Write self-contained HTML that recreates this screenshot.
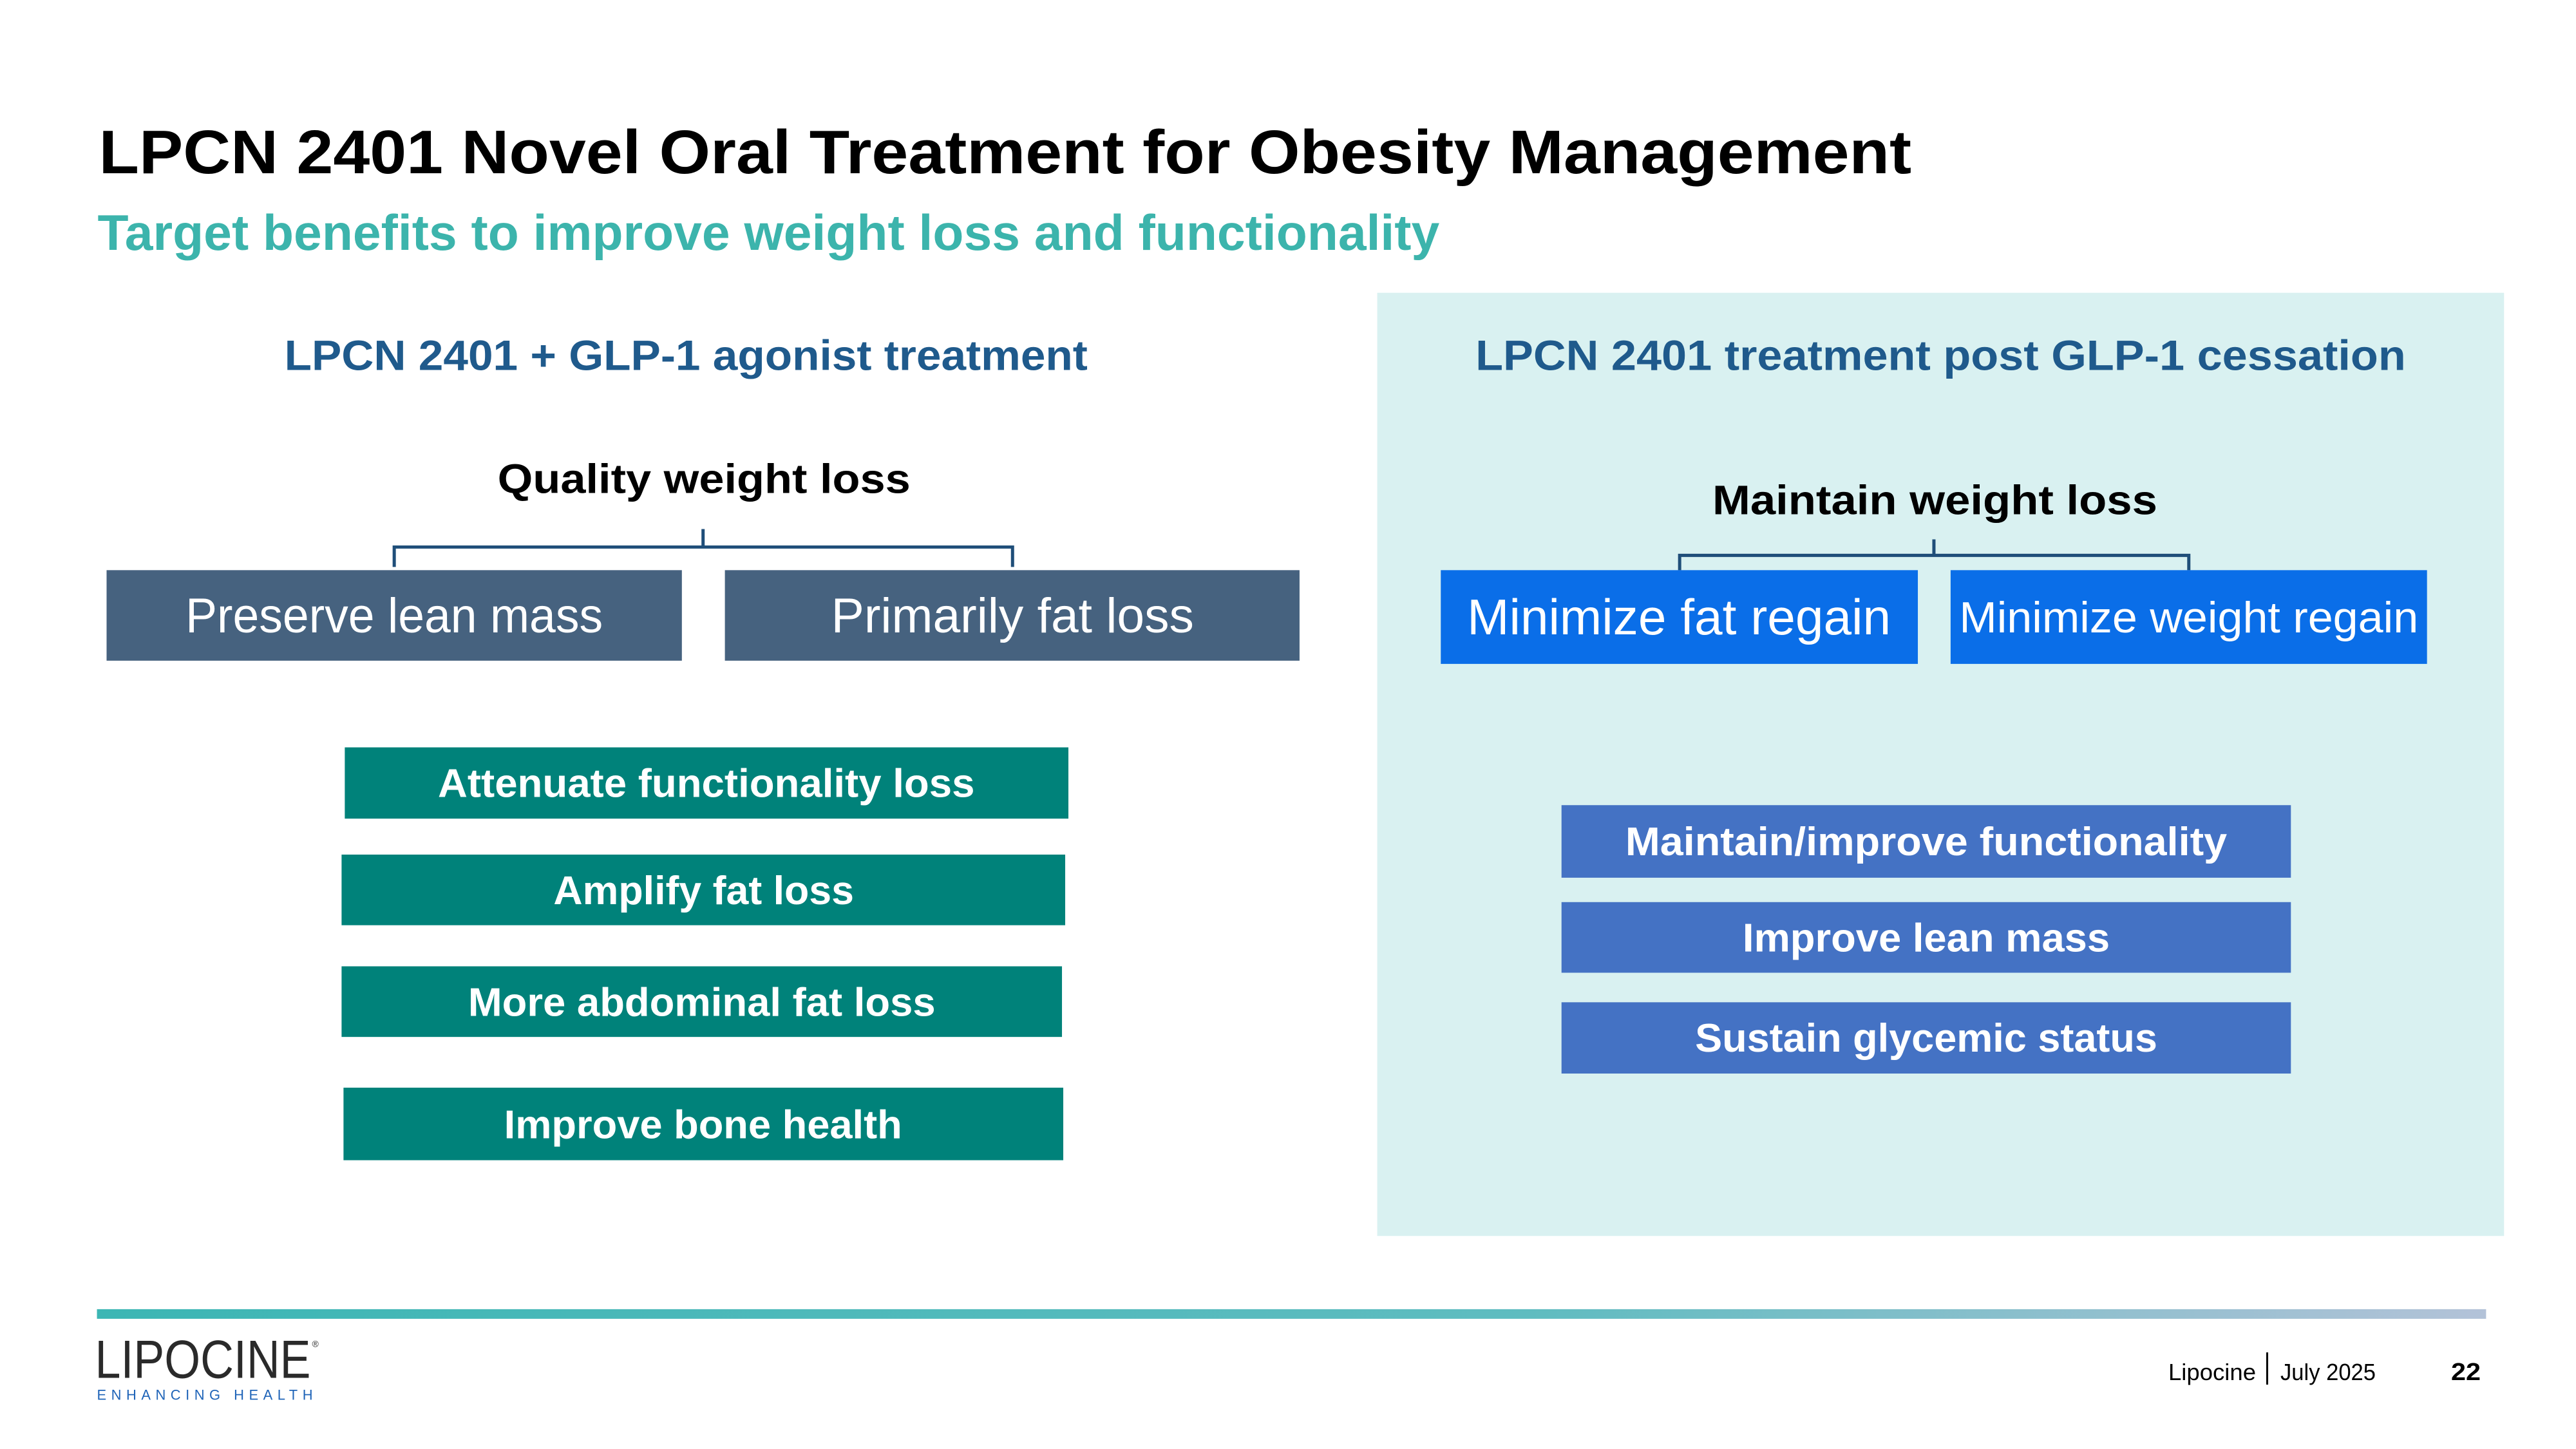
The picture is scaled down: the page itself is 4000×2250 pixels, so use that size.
<!DOCTYPE html>
<html><head><meta charset="utf-8"><style>
html,body{margin:0;padding:0;background:#fff;}
svg{display:block;}
text{font-family:"Liberation Sans",sans-serif;}
</style></head><body>
<svg width="4000" height="2250" viewBox="0 0 4000 2250" xmlns="http://www.w3.org/2000/svg">
<defs><linearGradient id="fl" x1="0" x2="1" y1="0" y2="0"><stop offset="0" stop-color="#3cb6b4"/><stop offset="0.6" stop-color="#5fbcc0"/><stop offset="1" stop-color="#b3c2d8"/></linearGradient></defs>
<g transform="scale(0.997)">
<text x="154" y="270" font-size="96" font-weight="bold" fill="#000" textLength="2823" lengthAdjust="spacingAndGlyphs">LPCN 2401 Novel Oral Treatment for Obesity Management</text>
<text x="152" y="389" font-size="78" font-weight="bold" fill="#3cb4ac" textLength="2090" lengthAdjust="spacingAndGlyphs">Target benefits to improve weight loss and functionality</text>
<rect x="2145" y="456" width="1755" height="1469" fill="#d9f1f1"/>
<text x="443" y="576" font-size="66" font-weight="bold" fill="#1f5a8c" textLength="1251" lengthAdjust="spacingAndGlyphs">LPCN 2401 + GLP-1 agonist treatment</text>
<text x="2298" y="576" font-size="66" font-weight="bold" fill="#1f5a8c" textLength="1449" lengthAdjust="spacingAndGlyphs">LPCN 2401 treatment post GLP-1 cessation</text>
<text x="775" y="768" font-size="64" font-weight="bold" fill="#000" textLength="643" lengthAdjust="spacingAndGlyphs">Quality weight loss</text>
<path d="M1095 824V852M614 883V852H1577V883" stroke="#1f4e79" stroke-width="5" fill="none"/>
<rect x="166" y="888" width="896" height="141" fill="#46627f"/>
<text x="614" y="985" font-size="76" fill="#fff" text-anchor="middle" textLength="650" lengthAdjust="spacingAndGlyphs">Preserve lean mass</text>
<rect x="1129" y="888" width="895" height="141" fill="#46627f"/>
<text x="1577" y="985" font-size="76" fill="#fff" text-anchor="middle" textLength="565" lengthAdjust="spacingAndGlyphs">Primarily fat loss</text>
<text x="2667" y="801" font-size="64" font-weight="bold" fill="#000" textLength="693" lengthAdjust="spacingAndGlyphs">Maintain weight loss</text>
<path d="M3012 840V865M2616 888V865H3409V888" stroke="#1f4e79" stroke-width="5" fill="none"/>
<rect x="2244" y="888" width="743" height="146" fill="#0a6ee8"/>
<text x="2615" y="988" font-size="78" fill="#fff" text-anchor="middle" textLength="660" lengthAdjust="spacingAndGlyphs">Minimize fat regain</text>
<rect x="3038" y="888" width="742" height="146" fill="#0a6ee8"/>
<text x="3409" y="985" font-size="68" fill="#fff" text-anchor="middle" textLength="715" lengthAdjust="spacingAndGlyphs">Minimize weight regain</text>
<g fill="#00827a">
<rect x="537" y="1164" width="1127" height="111"/>
<rect x="532" y="1331" width="1127" height="110"/>
<rect x="532" y="1505" width="1122" height="110"/>
<rect x="535" y="1694" width="1121" height="113"/>
</g>
<g fill="#fff" font-size="62" font-weight="bold" text-anchor="middle">
<text x="1100" y="1241" textLength="836" lengthAdjust="spacingAndGlyphs">Attenuate functionality loss</text>
<text x="1096" y="1408" textLength="468" lengthAdjust="spacingAndGlyphs">Amplify fat loss</text>
<text x="1093" y="1582" textLength="728" lengthAdjust="spacingAndGlyphs">More abdominal fat loss</text>
<text x="1095" y="1773" textLength="620" lengthAdjust="spacingAndGlyphs">Improve bone health</text>
</g>
<g fill="#4472c4">
<rect x="2432" y="1254" width="1136" height="113"/>
<rect x="2432" y="1405" width="1136" height="110"/>
<rect x="2432" y="1561" width="1136" height="111"/>
</g>
<g fill="#fff" font-size="62" font-weight="bold" text-anchor="middle">
<text x="3000" y="1332" textLength="937" lengthAdjust="spacingAndGlyphs">Maintain/improve functionality</text>
<text x="3000" y="1482" textLength="572" lengthAdjust="spacingAndGlyphs">Improve lean mass</text>
<text x="3000" y="1638" textLength="720" lengthAdjust="spacingAndGlyphs">Sustain glycemic status</text>
</g>
<rect x="151" y="2039" width="3721" height="15" fill="url(#fl)"/>
<text x="148" y="2146" font-size="84" fill="#2a2a2a" textLength="336" lengthAdjust="spacingAndGlyphs">LIPOCINE</text>
<text x="486" y="2098" font-size="14" fill="#2a2a2a">®</text>
<text x="151" y="2180" font-size="22" fill="#1f64b8" textLength="336" lengthAdjust="spacing">ENHANCING HEALTH</text>
</g>
<text x="3367" y="2143" font-size="36" fill="#000" textLength="136" lengthAdjust="spacingAndGlyphs">Lipocine</text>
<rect x="3519" y="2100" width="3" height="50" fill="#000"/>
<text x="3541" y="2143" font-size="36" fill="#000" textLength="148" lengthAdjust="spacingAndGlyphs">July 2025</text>
<text x="3806" y="2143" font-size="38" font-weight="bold" fill="#000" textLength="46" lengthAdjust="spacingAndGlyphs">22</text>
</svg>
</body></html>
